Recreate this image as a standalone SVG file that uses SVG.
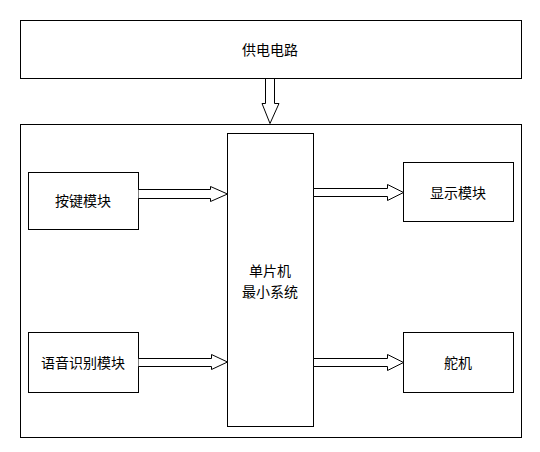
<svg xmlns="http://www.w3.org/2000/svg" width="540" height="452" viewBox="0 0 540 452">
<style>
.box{fill:#fff;stroke:#000;stroke-width:1}
.arr{fill:#fff;stroke:#000;stroke-width:1;stroke-linejoin:miter}
text{font-family:"Noto Sans CJK SC","Liberation Sans",sans-serif;font-size:14px;fill:#000;text-anchor:middle;dominant-baseline:central}
</style>
<rect width="540" height="452" fill="#fff"/>
<g id="power"><rect class="box" x="20.5" y="20.5" width="501" height="58"/><text x="270" y="49">供电电路</text></g>
<g id="outer"><rect class="box" x="20.5" y="124.5" width="501" height="313"/></g>
<g id="mcu"><rect class="box" x="227.5" y="133.5" width="86" height="293"/><text x="270" y="270">单片机</text><text x="270" y="291">最小系统</text></g>
<g id="keys"><rect class="box" x="28.5" y="172.5" width="110" height="57"/><text x="83" y="200">按键模块</text></g>
<g id="voice"><rect class="box" x="28.5" y="332.5" width="110" height="60"/><text x="83" y="362">语音识别模块</text></g>
<g id="display"><rect class="box" x="403.5" y="162.5" width="110" height="59"/><text x="458" y="192">显示模块</text></g>
<g id="servo"><rect class="box" x="403.5" y="332.5" width="110" height="60"/><text x="458" y="362">舵机</text></g>
<g id="connectors">
<path class="arr" d="M265.5 79 V103.5 H262 L270 123.5 L279 103.5 H274.5 V79"/>
<path class="arr" d="M138.5 189.5 H210.5 V186.5 L227.5 194 L210.5 201.5 V198.5 H138.5"/>
<path class="arr" d="M313.5 188.5 H387.5 V184.5 L403.5 192.5 L387.5 200.5 V196.5 H313.5 Z"/>
<path class="arr" d="M138.5 358.5 H211.5 V354.5 L227.5 362 L211.5 369.5 V366.5 H138.5"/>
<path class="arr" d="M313.5 358.5 H387.5 V354.5 L403.5 362.5 L387.5 370.5 V366.5 H313.5 Z"/>
</g>
</svg>
